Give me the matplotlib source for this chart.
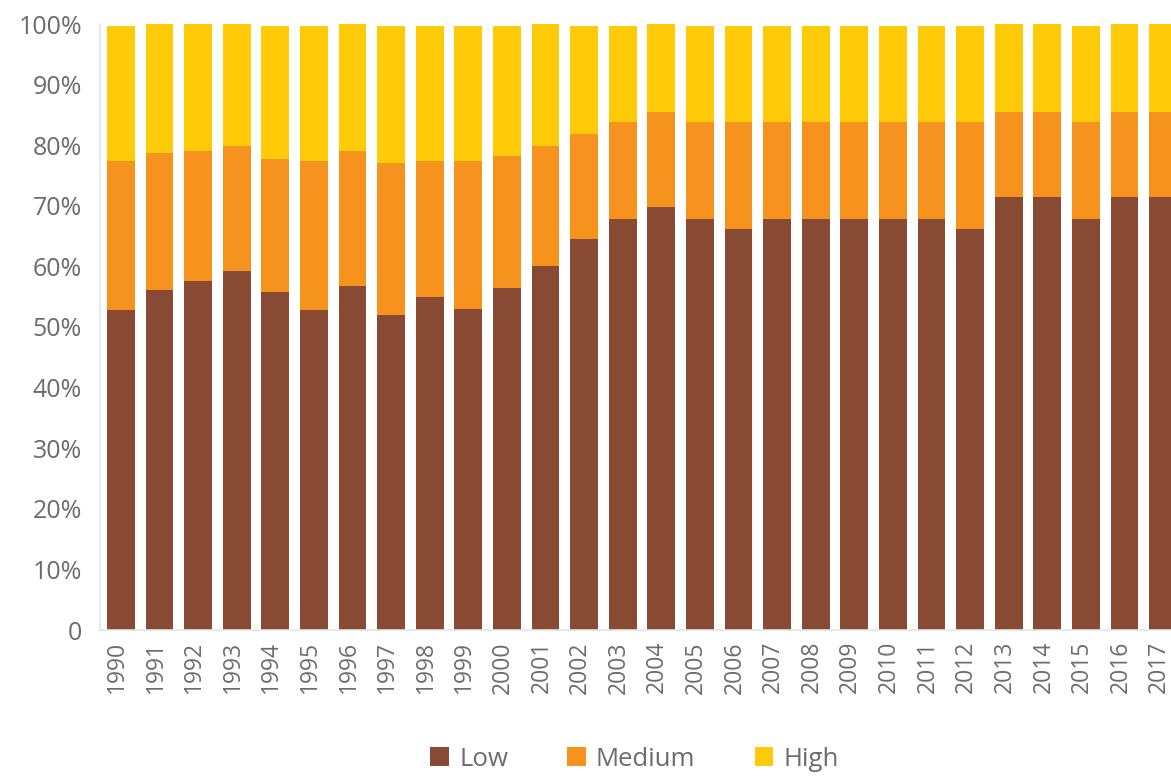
import matplotlib
matplotlib.use("Agg")
import matplotlib.pyplot as plt
import matplotlib.transforms as mtransforms
import numpy as np

years = [str(y) for y in range(1990, 2018)]
low = [52.8, 56.1, 57.6, 59.3, 55.7, 52.8, 56.8, 52.0, 54.9, 52.9,
       56.5, 60.1, 64.6, 67.8, 69.8, 67.8, 66.2, 67.8, 67.8, 67.8,
       67.8, 67.8, 66.2, 71.4, 71.4, 67.8, 71.4, 71.4]
medium = [24.6, 22.6, 21.5, 20.6, 22.1, 24.6, 22.3, 25.0, 22.5, 24.5,
          21.8, 19.8, 17.3, 16.1, 15.7, 16.1, 17.7, 16.1, 16.1, 16.1,
          16.1, 16.1, 17.7, 14.1, 14.1, 16.1, 14.1, 14.1]
high = [22.2, 21.3, 20.9, 20.1, 21.8, 22.2, 20.9, 22.6, 22.2, 22.2,
        21.3, 20.1, 17.7, 15.7, 14.5, 15.7, 15.7, 15.7, 15.7, 15.7,
        15.7, 15.7, 15.7, 14.5, 14.5, 15.7, 14.5, 14.5]
yticks = [0, 10, 20, 30, 40, 50, 60, 70, 80, 90, 100]
ytick_labels = ["0", "10%", "20%", "30%", "40%", "50%", "60%", "70%", "80%", "90%", "100%"]

c_low = "#884A33"
c_med = "#F6921E"
c_high = "#FFCA08"
txt = "#6b6b72"

plt.rcParams['font.family'] = ['Open Sans', 'DejaVu Sans']

fig = plt.figure(figsize=(11.71, 7.77), dpi=100)
ax = fig.add_axes([100/1171, 1-630/777, 1-100/1171, 606/777])

x = np.arange(len(years))
w = 0.72
low_a = np.array(low)
med_a = np.array(medium)
high_a = np.array(high)
ax.bar(x, low_a, w, color=c_low, label="Low")
ax.bar(x, med_a, w, bottom=low_a, color=c_med, label="Medium")
ax.bar(x, high_a, w, bottom=low_a + med_a, color=c_high, label="High")

ax.set_xlim(-0.54, (1171 - 121) / 38.6)
ax.set_ylim(0, 100)
ax.set_xticks(x)
ax.set_xticklabels(years, rotation=90, fontsize=16.5, color=txt)
ax.set_yticks(yticks)
ax.set_yticklabels(ytick_labels, fontsize=18, color=txt)
ax.tick_params(axis='both', length=0)
ax.tick_params(axis='y', pad=13)
ax.tick_params(axis='x', pad=8)

# nudge x tick labels a few pixels left, as in the reference
offset = mtransforms.ScaledTranslation(-4/100, 0, fig.dpi_scale_trans)
for lab in ax.get_xticklabels():
    lab.set_transform(lab.get_transform() + offset)

for s in ["top", "right"]:
    ax.spines[s].set_visible(False)
for s in ["left", "bottom"]:
    ax.spines[s].set_color("#e3e6e6")
    ax.spines[s].set_linewidth(1.2)

fig.legend(loc="center", bbox_to_anchor=(634.5/1171, 1-759/777), ncol=3,
           frameon=False, fontsize=18.5, handlelength=0.72, handleheight=0.72,
           handletextpad=0.4, columnspacing=2.3, labelcolor=txt)

fig.savefig("out.png", dpi=100)
